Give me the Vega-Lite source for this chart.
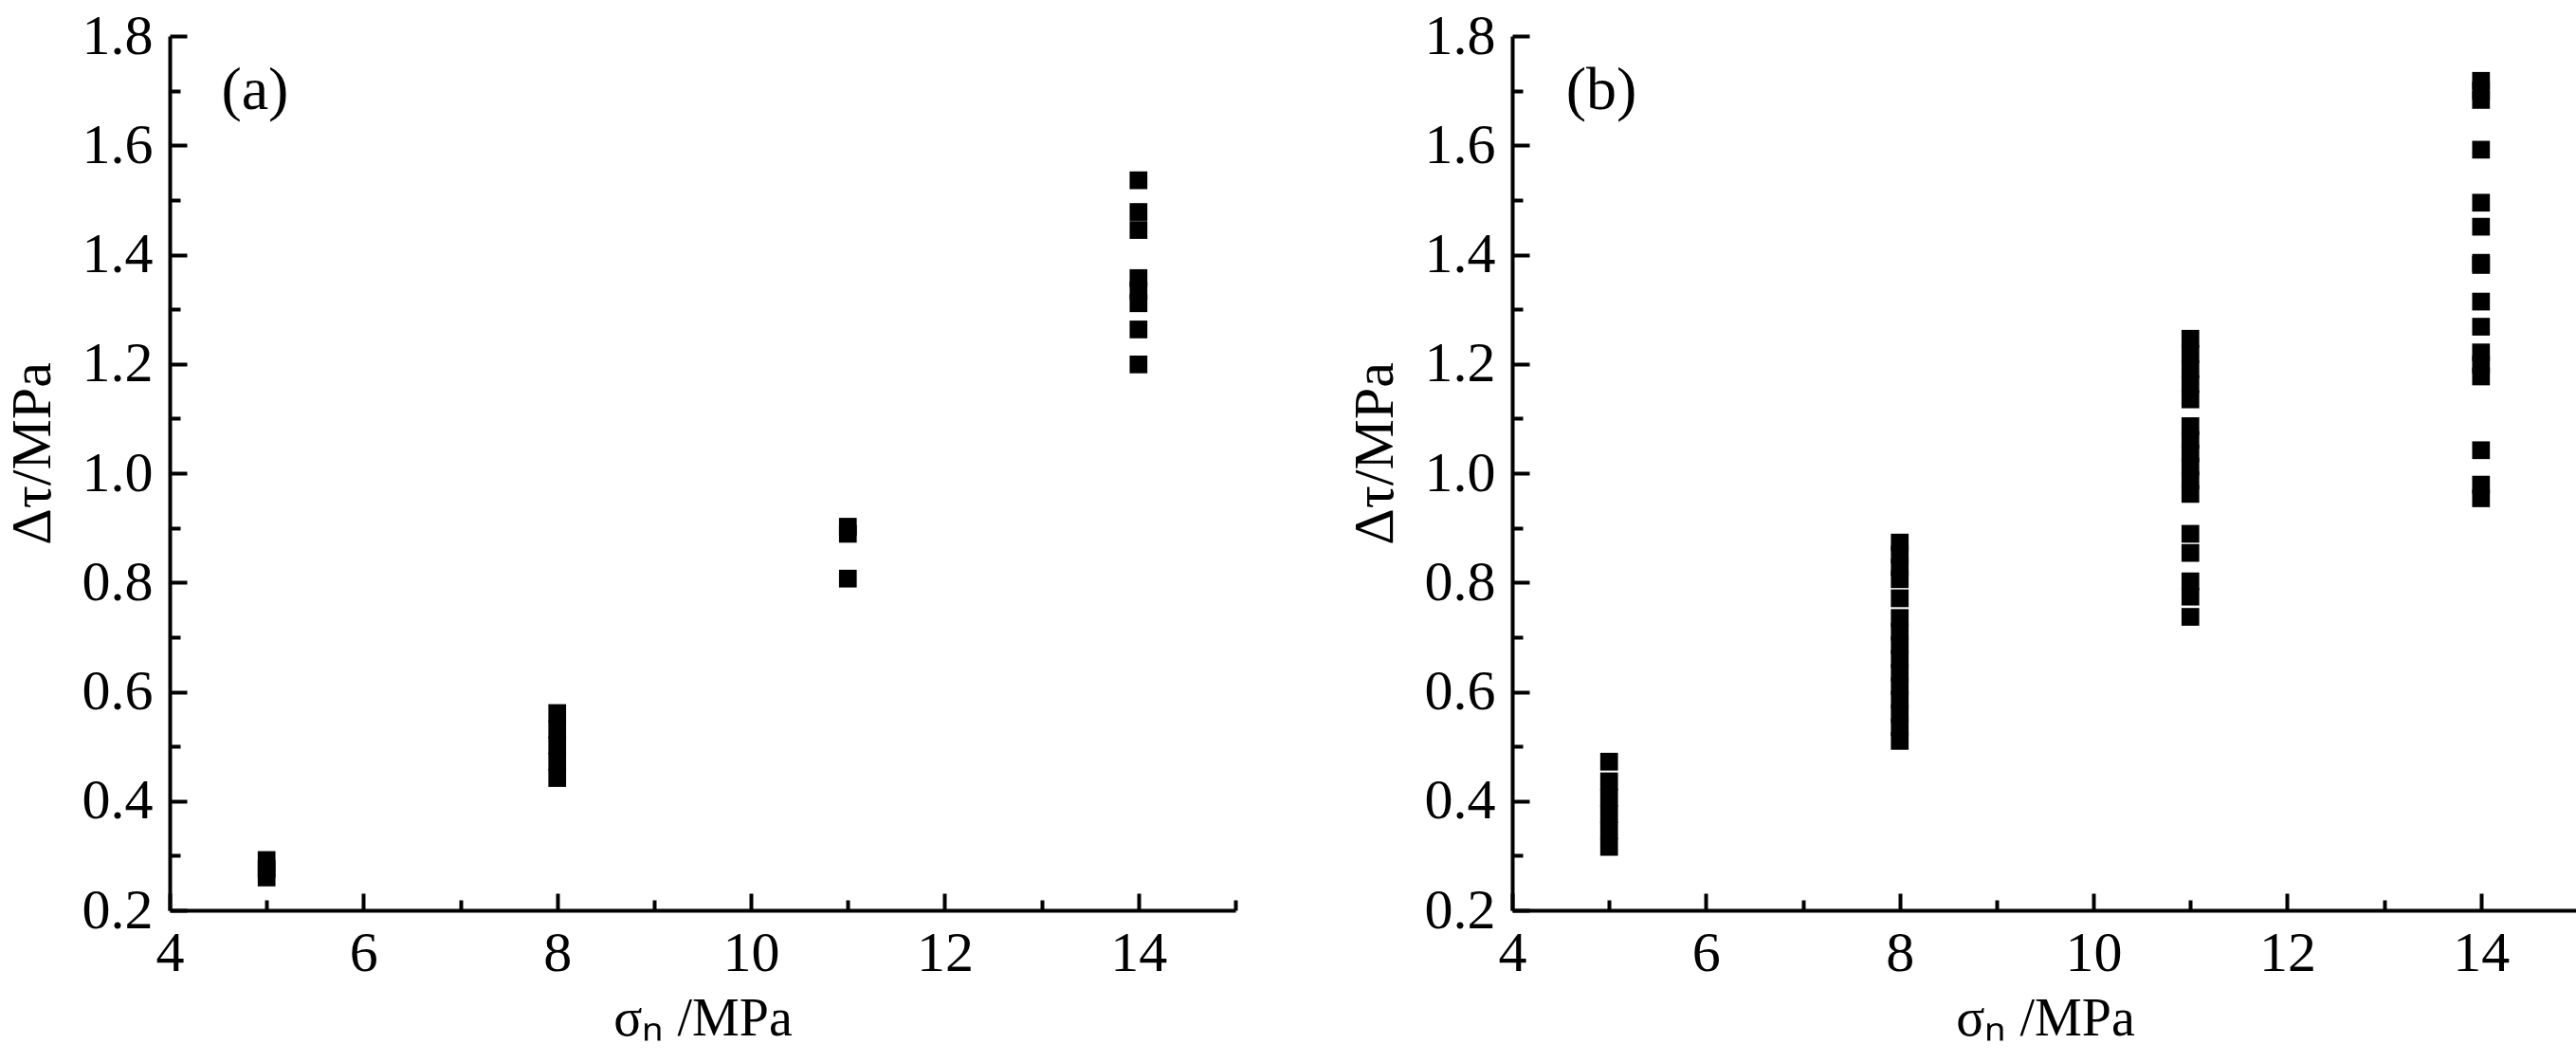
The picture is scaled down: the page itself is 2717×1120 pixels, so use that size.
{
  "$schema": "https://vega.github.io/schema/vega-lite/v6.json",
  "background": "white",
  "padding": {"left": 4, "top": 8, "right": 0, "bottom": 0},
  "datasets": {
    "pts": [
      {"panel": "a", "sn": 5, "dt": 0.260}, {"panel": "a", "sn": 5, "dt": 0.276}, {"panel": "a", "sn": 5, "dt": 0.292},
      {"panel": "a", "sn": 8, "dt": 0.442}, {"panel": "a", "sn": 8, "dt": 0.472}, {"panel": "a", "sn": 8, "dt": 0.502}, {"panel": "a", "sn": 8, "dt": 0.531}, {"panel": "a", "sn": 8, "dt": 0.561},
      {"panel": "a", "sn": 11, "dt": 0.807}, {"panel": "a", "sn": 11, "dt": 0.889}, {"panel": "a", "sn": 11, "dt": 0.902},
      {"panel": "a", "sn": 14, "dt": 1.199}, {"panel": "a", "sn": 14, "dt": 1.263}, {"panel": "a", "sn": 14, "dt": 1.311}, {"panel": "a", "sn": 14, "dt": 1.334}, {"panel": "a", "sn": 14, "dt": 1.357}, {"panel": "a", "sn": 14, "dt": 1.445}, {"panel": "a", "sn": 14, "dt": 1.478}, {"panel": "a", "sn": 14, "dt": 1.536},
      {"panel": "b", "sn": 5, "dt": 0.316}, {"panel": "b", "sn": 5, "dt": 0.346}, {"panel": "b", "sn": 5, "dt": 0.376}, {"panel": "b", "sn": 5, "dt": 0.406}, {"panel": "b", "sn": 5, "dt": 0.436}, {"panel": "b", "sn": 5, "dt": 0.472},
      {"panel": "b", "sn": 8, "dt": 0.510}, {"panel": "b", "sn": 8, "dt": 0.535}, {"panel": "b", "sn": 8, "dt": 0.560}, {"panel": "b", "sn": 8, "dt": 0.585}, {"panel": "b", "sn": 8, "dt": 0.610}, {"panel": "b", "sn": 8, "dt": 0.635}, {"panel": "b", "sn": 8, "dt": 0.660}, {"panel": "b", "sn": 8, "dt": 0.685}, {"panel": "b", "sn": 8, "dt": 0.710}, {"panel": "b", "sn": 8, "dt": 0.735}, {"panel": "b", "sn": 8, "dt": 0.771}, {"panel": "b", "sn": 8, "dt": 0.806}, {"panel": "b", "sn": 8, "dt": 0.828}, {"panel": "b", "sn": 8, "dt": 0.851}, {"panel": "b", "sn": 8, "dt": 0.873},
      {"panel": "b", "sn": 11, "dt": 0.737}, {"panel": "b", "sn": 11, "dt": 0.774}, {"panel": "b", "sn": 11, "dt": 0.802}, {"panel": "b", "sn": 11, "dt": 0.854}, {"panel": "b", "sn": 11, "dt": 0.889}, {"panel": "b", "sn": 11, "dt": 0.962}, {"panel": "b", "sn": 11, "dt": 0.987}, {"panel": "b", "sn": 11, "dt": 1.012}, {"panel": "b", "sn": 11, "dt": 1.036}, {"panel": "b", "sn": 11, "dt": 1.061}, {"panel": "b", "sn": 11, "dt": 1.086}, {"panel": "b", "sn": 11, "dt": 1.135}, {"panel": "b", "sn": 11, "dt": 1.163}, {"panel": "b", "sn": 11, "dt": 1.190}, {"panel": "b", "sn": 11, "dt": 1.218}, {"panel": "b", "sn": 11, "dt": 1.246},
      {"panel": "b", "sn": 14, "dt": 0.954}, {"panel": "b", "sn": 14, "dt": 0.979}, {"panel": "b", "sn": 14, "dt": 1.042}, {"panel": "b", "sn": 14, "dt": 1.177}, {"panel": "b", "sn": 14, "dt": 1.199}, {"panel": "b", "sn": 14, "dt": 1.221}, {"panel": "b", "sn": 14, "dt": 1.268}, {"panel": "b", "sn": 14, "dt": 1.314}, {"panel": "b", "sn": 14, "dt": 1.381}, {"panel": "b", "sn": 14, "dt": 1.385}, {"panel": "b", "sn": 14, "dt": 1.451}, {"panel": "b", "sn": 14, "dt": 1.495}, {"panel": "b", "sn": 14, "dt": 1.592}, {"panel": "b", "sn": 14, "dt": 1.683}, {"panel": "b", "sn": 14, "dt": 1.700}, {"panel": "b", "sn": 14, "dt": 1.718}
    ],
    "tags": [
      {"panel": "a", "sn": 4.88, "dt": 1.70, "label": "(a)"},
      {"panel": "b", "sn": 4.92, "dt": 1.70, "label": "(b)"}
    ]
  },
  "spacing": 115,
  "hconcat": [
    {
      "width": 1124,
      "height": 922,
      "layer": [
        {
          "data": {"name": "pts"},
          "transform": [{"filter": "datum.panel === 'a'"}],
          "mark": {"type": "point", "shape": "square", "filled": true, "size": 350, "color": "black", "opacity": 1, "strokeWidth": 0},
          "encoding": {
            "x": {"field": "sn", "type": "quantitative", "scale": {"domain": [4, 15], "nice": false, "zero": false},
              "axis": {"title": "σₙ /MPa", "values": [4, 5, 6, 7, 8, 9, 10, 11, 12, 13, 14, 15], "labelExpr": "datum.value % 2 === 0 ? format(datum.value, 'd') : ''", "tickSize": {"condition": {"test": "datum.value % 2 === 0", "value": -18}, "value": -11}, "labelPadding": 34, "titleY": 131, "titleBaseline": "alphabetic"}},
            "y": {"field": "dt", "type": "quantitative", "scale": {"domain": [0.2, 1.8], "nice": false, "zero": false},
              "axis": {"title": "Δτ/MPa", "values": [0.2, 0.3, 0.4, 0.5, 0.6, 0.7, 0.8, 0.9, 1.0, 1.1, 1.2, 1.3, 1.4, 1.5, 1.6, 1.7, 1.8], "labelExpr": "round(datum.value*10) % 2 === 0 ? format(datum.value, '.1f') : ''", "tickSize": {"condition": {"test": "round(datum.value*10) % 2 === 0", "value": -18}, "value": -11}, "labelPadding": 36, "titleX": -127, "titleY": 440, "titleBaseline": "alphabetic", "titleFontSize": 60}}
          }
        },
        {
          "data": {"name": "tags"},
          "transform": [{"filter": "datum.panel === 'a'"}],
          "mark": {"type": "text", "font": "Liberation Serif", "fontSize": 64, "align": "center", "baseline": "middle", "color": "black"},
          "encoding": {
            "x": {"field": "sn", "type": "quantitative"},
            "y": {"field": "dt", "type": "quantitative"},
            "text": {"field": "label"}
          }
        }
      ]
    },
    {
      "width": 1124,
      "height": 922,
      "layer": [
        {
          "data": {"name": "pts"},
          "transform": [{"filter": "datum.panel === 'b'"}],
          "mark": {"type": "point", "shape": "square", "filled": true, "size": 350, "color": "black", "opacity": 1, "strokeWidth": 0},
          "encoding": {
            "x": {"field": "sn", "type": "quantitative", "scale": {"domain": [4, 15], "nice": false, "zero": false},
              "axis": {"title": "σₙ /MPa", "values": [4, 5, 6, 7, 8, 9, 10, 11, 12, 13, 14, 15], "labelExpr": "datum.value % 2 === 0 ? format(datum.value, 'd') : ''", "tickSize": {"condition": {"test": "datum.value % 2 === 0", "value": -18}, "value": -11}, "labelPadding": 34, "titleY": 131, "titleBaseline": "alphabetic"}},
            "y": {"field": "dt", "type": "quantitative", "scale": {"domain": [0.2, 1.8], "nice": false, "zero": false},
              "axis": {"title": "Δτ/MPa", "values": [0.2, 0.3, 0.4, 0.5, 0.6, 0.7, 0.8, 0.9, 1.0, 1.1, 1.2, 1.3, 1.4, 1.5, 1.6, 1.7, 1.8], "labelExpr": "round(datum.value*10) % 2 === 0 ? format(datum.value, '.1f') : ''", "tickSize": {"condition": {"test": "round(datum.value*10) % 2 === 0", "value": -18}, "value": -11}, "labelPadding": 36, "titleX": -127, "titleY": 440, "titleBaseline": "alphabetic", "titleFontSize": 60}}
          }
        },
        {
          "data": {"name": "tags"},
          "transform": [{"filter": "datum.panel === 'b'"}],
          "mark": {"type": "text", "font": "Liberation Serif", "fontSize": 64, "align": "center", "baseline": "middle", "color": "black"},
          "encoding": {
            "x": {"field": "sn", "type": "quantitative"},
            "y": {"field": "dt", "type": "quantitative"},
            "text": {"field": "label"}
          }
        }
      ]
    }
  ],
  "config": {
    "view": {"stroke": null},
    "font": "Liberation Serif",
    "axis": {
      "grid": false,
      "domainColor": "black",
      "domainWidth": 4,
      "tickColor": "black",
      "tickWidth": 4,
      "labelFont": "Liberation Serif",
      "labelFontSize": 60,
      "labelColor": "black",
      "labelFlush": false,
      "labelOverlap": false,
      "labelBound": false,
      "titleFont": "Liberation Serif",
      "titleFontSize": 56,
      "titleFontWeight": "normal",
      "titleColor": "black"
    }
  }
}
